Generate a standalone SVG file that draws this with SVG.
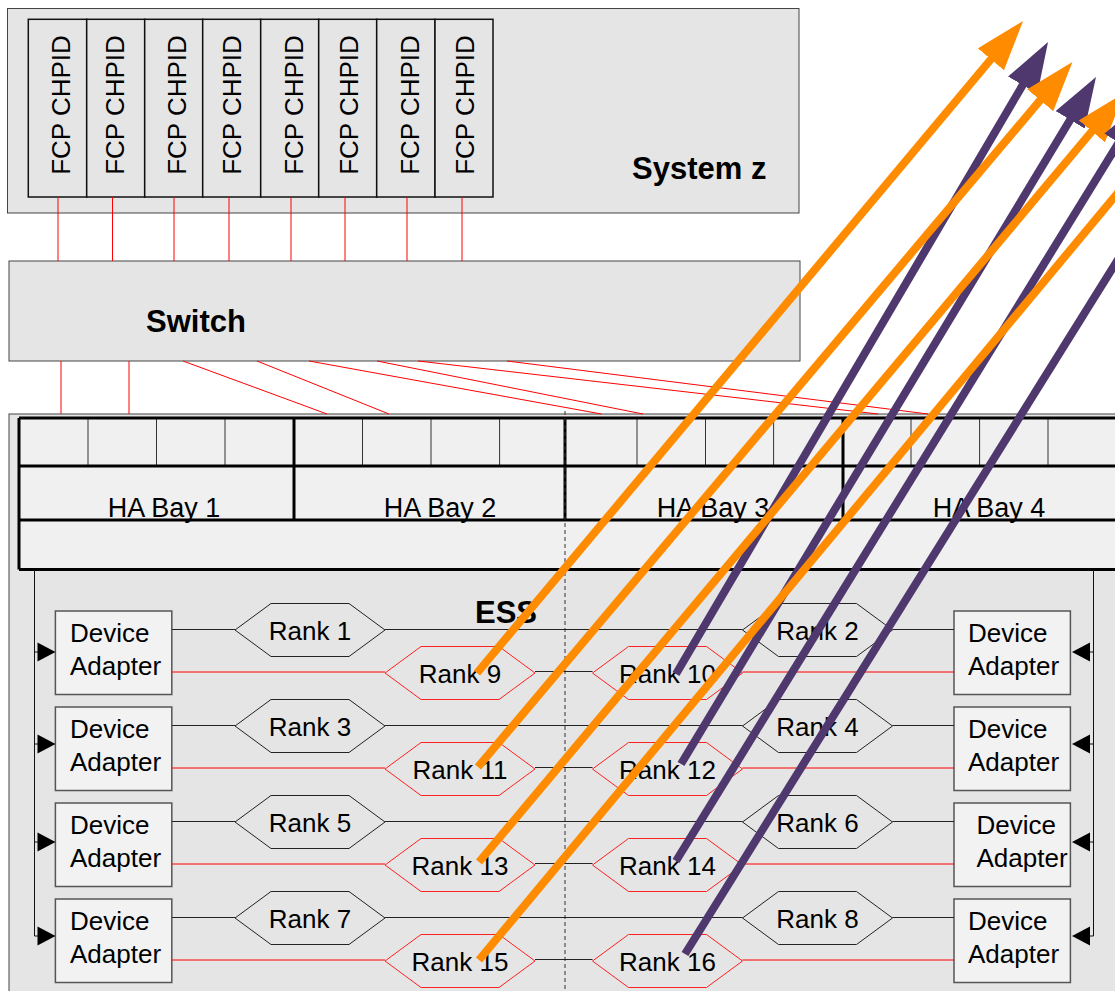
<svg xmlns="http://www.w3.org/2000/svg" width="1115" height="991" viewBox="0 0 1115 991">
  <style>
    .box { fill: #e5e5e5; stroke: #444; stroke-width: 1; }
    .chpid { fill: #e5e5e5; stroke: #111; stroke-width: 1.5; }
    .cell { fill: #f0f0f0; stroke: none; }
    .thick { stroke: #000; stroke-width: 3; fill: none; }
    .thin { stroke: #333; stroke-width: 1; fill: none; }
    .da { fill: #f2f2f2; stroke: #555; stroke-width: 1.5; }
    .hex { fill: none; stroke: #222; stroke-width: 1; }
    .hex-red { fill: none; stroke: #ff2020; stroke-width: 1; }
    .t { font-family: "Liberation Sans", Arial, Helvetica, sans-serif; font-size: 26px; fill: #000; }
    .bay { font-size: 27px; }
    .tb { font-family: "Liberation Sans", Arial, Helvetica, sans-serif; font-size: 31px; font-weight: bold; fill: #000; }
    .mid { text-anchor: middle; }
    .red { stroke: #ff0000; stroke-width: 1; fill: none; }
    .blk { stroke: #222; stroke-width: 1; fill: none; }
    .bus { stroke: #111; stroke-width: 1; fill: none; }
    .orange { stroke: #ff8c00; stroke-width: 8; fill: none; marker-end: url(#head-orange); }
    .purple { stroke: #4e386e; stroke-width: 8; fill: none; marker-end: url(#head-purple); }
  </style>
  <defs>
    <marker id="head-orange" markerUnits="userSpaceOnUse" viewBox="0 -17 50 34" markerWidth="50" markerHeight="34" refX="2" refY="0" orient="auto">
      <path d="M0,-17 L50,0 L0,17 z" fill="#ff8c00"/>
    </marker>
    <marker id="head-purple" markerUnits="userSpaceOnUse" viewBox="0 -17 50 34" markerWidth="50" markerHeight="34" refX="2" refY="0" orient="auto">
      <path d="M0,-17 L50,0 L0,17 z" fill="#4e386e"/>
    </marker>
    <path id="hex" d="M0,0 L36,-26.5 L114,-26.5 L150,0 L114,26.5 L36,26.5 Z"/>
    <path id="tri-right" d="M0,-9.5 L18,0 L0,9.5 Z" fill="#000"/>
    <path id="tri-left" d="M0,-9.5 L-18,0 L0,9.5 Z" fill="#000"/>
  </defs>

  <rect width="1115" height="991" fill="#fff"/>

  <!-- System z with its FCP channel paths -->
  <g id="system-z">
    <rect class="box" x="7.5" y="8.5" width="791.5" height="204.5"/>
    <rect class="chpid" x="28.3" y="19.3" width="58.4" height="177.7"/>
    <rect class="chpid" x="86.7" y="19.3" width="58" height="177.7"/>
    <rect class="chpid" x="144.7" y="19.3" width="58" height="177.7"/>
    <rect class="chpid" x="202.7" y="19.3" width="58" height="177.7"/>
    <rect class="chpid" x="260.7" y="19.3" width="58" height="177.7"/>
    <rect class="chpid" x="318.7" y="19.3" width="58" height="177.7"/>
    <rect class="chpid" x="376.7" y="19.3" width="58.3" height="177.7"/>
    <rect class="chpid" x="435" y="19.3" width="58" height="177.7"/>
    <text class="t mid" transform="translate(69.5,105) rotate(-90)">FCP CHPID</text>
    <text class="t mid" transform="translate(124,105) rotate(-90)">FCP CHPID</text>
    <text class="t mid" transform="translate(186,105) rotate(-90)">FCP CHPID</text>
    <text class="t mid" transform="translate(240.5,105) rotate(-90)">FCP CHPID</text>
    <text class="t mid" transform="translate(303.3,105) rotate(-90)">FCP CHPID</text>
    <text class="t mid" transform="translate(357.7,105) rotate(-90)">FCP CHPID</text>
    <text class="t mid" transform="translate(419.3,105) rotate(-90)">FCP CHPID</text>
    <text class="t mid" transform="translate(474,105) rotate(-90)">FCP CHPID</text>
    <text class="tb" x="632" y="179" font-size="32">System z</text>
  </g>

  <!-- Switch -->
  <g id="switch">
    <rect class="box" x="9" y="261" width="791" height="100"/>
    <text class="tb" x="146" y="332">Switch</text>
  </g>

  <!-- ESS enclosure -->
  <g id="ess">
    <rect class="box" x="9" y="414" width="1120" height="590"/>
    <text class="tb" x="475" y="623">ESS</text>
  </g>

  <!-- Host adapter bays -->
  <g id="ha-bays">
    <rect class="cell" x="19" y="418" width="1110" height="151.5"/>
    <text class="t bay mid" x="164" y="516.5">HA Bay 1</text>
    <text class="t bay mid" x="440" y="516.5">HA Bay 2</text>
    <text class="t bay mid" x="713" y="516.5">HA Bay 3</text>
    <text class="t bay mid" x="989" y="516.5">HA Bay 4</text>
    <path class="thin" d="M88,418V466 M156.5,418V466 M225,418V466 M362.5,418V466 M431,418V466 M499.6,418V466 M637,418V466 M705.5,418V466 M773.6,418V466 M911,418V466 M979.6,418V466 M1048,418V466"/>
    <path class="thick" d="M19,418H1130 M19,466H1130 M19,520H1130 M19,569.5H1130 M19,418V569.5 M294,418V520 M565,418V520 M843,418V520"/>
  </g>

  <!-- Device adapters -->
  <g id="da-left-1"><rect class="da" x="55.4" y="611" width="116.4" height="83.5"/><text class="t" x="70" y="642">Device</text><text class="t" x="70" y="675">Adapter</text></g>
  <g id="da-left-2"><rect class="da" x="55.4" y="707" width="116.4" height="83.5"/><text class="t" x="70" y="738">Device</text><text class="t" x="70" y="771">Adapter</text></g>
  <g id="da-left-3"><rect class="da" x="55.4" y="803" width="116.4" height="83.5"/><text class="t" x="70" y="834">Device</text><text class="t" x="70" y="867">Adapter</text></g>
  <g id="da-left-4"><rect class="da" x="55.4" y="899" width="116.4" height="83.5"/><text class="t" x="70" y="930">Device</text><text class="t" x="70" y="963">Adapter</text></g>
  <g id="da-right-1"><rect class="da" x="954" y="611" width="116.4" height="83.5"/><text class="t" x="968" y="642">Device</text><text class="t" x="968" y="675">Adapter</text></g>
  <g id="da-right-2"><rect class="da" x="954" y="707" width="116.4" height="83.5"/><text class="t" x="968" y="738">Device</text><text class="t" x="968" y="771">Adapter</text></g>
  <g id="da-right-3"><rect class="da" x="954" y="803" width="116.4" height="83.5"/><text class="t" x="976.5" y="834">Device</text><text class="t" x="976.5" y="867">Adapter</text></g>
  <g id="da-right-4"><rect class="da" x="954" y="899" width="116.4" height="83.5"/><text class="t" x="968" y="930">Device</text><text class="t" x="968" y="963">Adapter</text></g>

  <!-- Ranks -->
  <g id="rank-1"><use href="#hex" class="hex" x="235" y="630"/><text class="t mid" x="310" y="639.5">Rank 1</text></g>
  <g id="rank-2"><use href="#hex" class="hex" x="742.5" y="630"/><text class="t mid" x="817.5" y="639.5">Rank 2</text></g>
  <g id="rank-3"><use href="#hex" class="hex" x="235" y="726"/><text class="t mid" x="310" y="735.5">Rank 3</text></g>
  <g id="rank-4"><use href="#hex" class="hex" x="742.5" y="726"/><text class="t mid" x="817.5" y="735.5">Rank 4</text></g>
  <g id="rank-5"><use href="#hex" class="hex" x="235" y="822"/><text class="t mid" x="310" y="831.5">Rank 5</text></g>
  <g id="rank-6"><use href="#hex" class="hex" x="742.5" y="822"/><text class="t mid" x="817.5" y="831.5">Rank 6</text></g>
  <g id="rank-7"><use href="#hex" class="hex" x="235" y="918"/><text class="t mid" x="310" y="927.5">Rank 7</text></g>
  <g id="rank-8"><use href="#hex" class="hex" x="742.5" y="918"/><text class="t mid" x="817.5" y="927.5">Rank 8</text></g>
  <g id="rank-9"><use href="#hex" class="hex-red" x="385" y="673"/><text class="t mid" x="460" y="682.5">Rank 9</text></g>
  <g id="rank-10"><use href="#hex" class="hex-red" x="592.5" y="673"/><text class="t mid" x="667.5" y="682.5">Rank 10</text></g>
  <g id="rank-11"><use href="#hex" class="hex-red" x="385" y="769"/><text class="t mid" x="460" y="778.5">Rank 11</text></g>
  <g id="rank-12"><use href="#hex" class="hex-red" x="592.5" y="769"/><text class="t mid" x="667.5" y="778.5">Rank 12</text></g>
  <g id="rank-13"><use href="#hex" class="hex-red" x="385" y="865"/><text class="t mid" x="460" y="874.5">Rank 13</text></g>
  <g id="rank-14"><use href="#hex" class="hex-red" x="592.5" y="865"/><text class="t mid" x="667.5" y="874.5">Rank 14</text></g>
  <g id="rank-15"><use href="#hex" class="hex-red" x="385" y="961"/><text class="t mid" x="460" y="970.5">Rank 15</text></g>
  <g id="rank-16"><use href="#hex" class="hex-red" x="592.5" y="961"/><text class="t mid" x="667.5" y="970.5">Rank 16</text></g>

  <g id="connectors">
    <!-- CHPID to switch -->
    <path class="red" d="M58,197V261 M112.5,197V261 M174,197V261 M229,197V261 M291,197V261 M345,197V261 M407,197V261 M462,197V261"/>
    <!-- switch to host adapters -->
    <path class="red" d="M61,361V414 M129,361V414 M183,361L327,414 M257,361L389,414 M309,361L601.5,414 M377,361L643,414 M418,361L878,414 M507,361L928,414"/>
    <!-- midplane divider -->
    <path d="M565,411V991" stroke="#333" stroke-width="1" stroke-dasharray="4 3" fill="none"/>
    <!-- adapter loops -->
    <path class="bus" d="M34.5,569.5V936 M1093.5,569.5V936 M34.5,652H38 M34.5,744H38 M34.5,842H38 M34.5,936H38 M1093.5,652H1090 M1093.5,744H1090 M1093.5,842H1090 M1093.5,936H1090"/>
    <use href="#tri-right" x="37.5" y="652"/>
    <use href="#tri-right" x="37.5" y="744"/>
    <use href="#tri-right" x="37.5" y="842"/>
    <use href="#tri-right" x="37.5" y="936"/>
    <use href="#tri-left" x="1090" y="652"/>
    <use href="#tri-left" x="1090" y="744"/>
    <use href="#tri-left" x="1090" y="842"/>
    <use href="#tri-left" x="1090" y="936"/>
    <!-- black rank strings -->
    <path class="blk" d="M172,629.5H235 M385,629.5H742.5 M892.5,629.5H954 M172,725.5H235 M385,725.5H742.5 M892.5,725.5H954 M172,821.5H235 M385,821.5H742.5 M892.5,821.5H954 M172,917.5H235 M385,917.5H742.5 M892.5,917.5H954 M535,671.5H592.5 M535,767.5H592.5 M535,863.5H592.5 M535,959.5H592.5"/>
    <!-- red rank strings -->
    <path class="red" d="M172,672H385 M742.5,672H954 M172,768H385 M742.5,768H954 M172,864H385 M742.5,864H954 M172,960H385 M742.5,960H954"/>
    <!-- rank arrows -->
    <line class="orange" x1="477" y1="673" x2="992.2" y2="57.8"/>
    <line class="purple" x1="676" y1="674" x2="1023.7" y2="83.4"/>
    <line class="orange" x1="478" y1="767" x2="1041.5" y2="98.7"/>
    <line class="purple" x1="681" y1="764" x2="1071.2" y2="118.1"/>
    <line class="orange" x1="479" y1="862" x2="1093.2" y2="129.8"/>
    <line class="purple" x1="676" y1="861" x2="1119.8" y2="140.9"/>
    <line class="orange" x1="479" y1="960" x2="1145.3" y2="159.9"/>
    <line class="purple" x1="685" y1="954" x2="1170" y2="176"/>
  </g>
</svg>
